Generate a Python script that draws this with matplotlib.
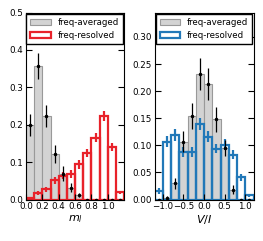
import numpy as np
import matplotlib
matplotlib.use("Agg")
import matplotlib.pyplot as plt

# left panel: m_l histograms (bin width 0.1)
ml_edges = np.linspace(0.0, 1.2, 13)
ml_avg = [0.200, 0.357, 0.223, 0.122, 0.069, 0.031, 0.012, 0.0, 0.0, 0.0, 0.0, 0.0]
ml_avg_err = [0.030, 0.036, 0.030, 0.025, 0.020, 0.012, 0.005, 0.0, 0.0, 0.0, 0.0, 0.0]
ml_res = [0.005, 0.018, 0.027, 0.051, 0.064, 0.068, 0.094, 0.124, 0.165, 0.224, 0.141, 0.019]
ml_res_err = [0.003, 0.006, 0.007, 0.009, 0.010, 0.010, 0.011, 0.011, 0.012, 0.013, 0.011, 0.005]

# right panel: V/I histograms (bin width 0.2)
vi_edges = np.linspace(-1.2, 1.2, 13)
vi_avg = [0.0, 0.003, 0.030, 0.107, 0.155, 0.232, 0.213, 0.148, 0.095, 0.018, 0.0, 0.0]
vi_avg_err = [0.0, 0.003, 0.010, 0.019, 0.024, 0.030, 0.029, 0.023, 0.015, 0.008, 0.0, 0.0]
vi_res = [0.016, 0.107, 0.119, 0.088, 0.088, 0.140, 0.116, 0.094, 0.101, 0.083, 0.041, 0.008]
vi_res_err = [0.005, 0.010, 0.011, 0.009, 0.009, 0.011, 0.010, 0.009, 0.010, 0.009, 0.006, 0.003]

red = '#e8222a'
blue = '#2178b8'

plt.rcParams['font.size'] = 6
fig = plt.figure(figsize=(2.63, 2.41), dpi=100)
ax1 = fig.add_axes([0.099, 0.172, 0.373, 0.776])
ax2 = fig.add_axes([0.588, 0.172, 0.376, 0.776])


def panel(ax, edges, avg, avg_err, res, res_err, col):
    centers = 0.5 * (edges[:-1] + edges[1:])
    w = edges[1] - edges[0]
    ax.bar(centers, avg, width=w, color='#d3d3d3', edgecolor='#999999',
           linewidth=0.8, label='freq-averaged')
    ax.bar(centers, res, width=w, fill=False, edgecolor=col,
           linewidth=1.6, label='freq-resolved')
    ax.errorbar(centers, res, yerr=res_err, fmt='none', ecolor=col,
                elinewidth=1.6, capsize=0)
    ax.errorbar(centers, avg, yerr=avg_err, fmt='.', color='k',
                markersize=3, elinewidth=0.9, capsize=0)
    ax.set_xlim(edges[0], edges[-1])
    ax.tick_params(direction='in', top=True, right=True, length=4,
                   labelsize=6.3, pad=2)
    ax.legend(loc='upper right', fontsize=6.2, fancybox=False,
              edgecolor='k', framealpha=1, borderaxespad=0.15,
              handlelength=2.4, handletextpad=0.8, borderpad=0.45,
              labelspacing=0.55)


panel(ax1, ml_edges, ml_avg, ml_avg_err, ml_res, ml_res_err, red)
ax1.set_ylim(0, 0.5)
ax1.set_xticks([0.0, 0.2, 0.4, 0.6, 0.8, 1.0])
ax1.set_yticks([0.0, 0.1, 0.2, 0.3, 0.4, 0.5])
ax1.set_xlabel('$m_l$', fontsize=8, labelpad=1)

panel(ax2, vi_edges, vi_avg, vi_avg_err, vi_res, vi_res_err, blue)
ax2.set_ylim(0, 0.345)
ax2.set_xticks([-1.0, -0.5, 0.0, 0.5, 1.0])
ax2.set_yticks([0.0, 0.05, 0.10, 0.15, 0.20, 0.25, 0.30])
ax2.set_yticklabels(['0.00', '0.05', '0.10', '0.15', '0.20', '0.25', '0.30'])
ax2.set_xlabel('$V/I$', fontsize=8, labelpad=1)

fig.savefig('out.png', dpi=100)
